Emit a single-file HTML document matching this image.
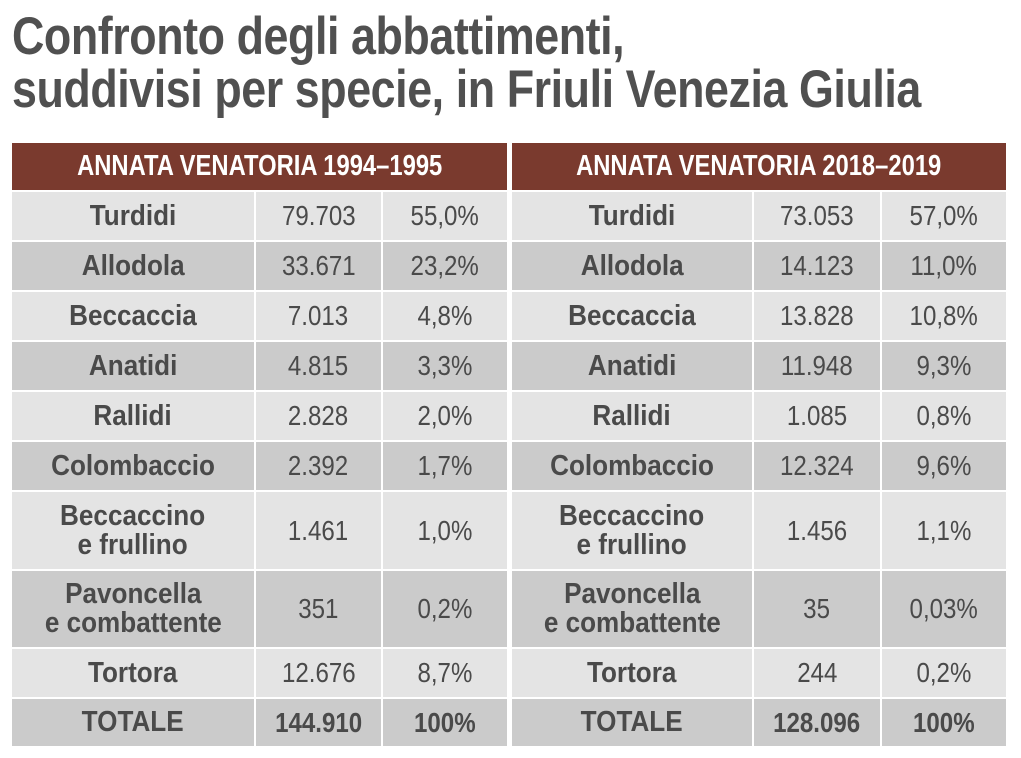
<!DOCTYPE html>
<html><head><meta charset="utf-8"><style>
body{margin:0;width:1021px;height:758px;background:#fff;position:relative;overflow:hidden;font-family:"Liberation Sans Narrow","Liberation Sans",sans-serif;}
.t{position:absolute;left:12px;font-weight:bold;font-size:53px;color:#505050;white-space:nowrap;letter-spacing:-0.5px;transform:scaleX(0.845);transform-origin:left top;}
.c{position:absolute;display:flex;align-items:center;justify-content:center;text-align:center;color:#4a4a4a;}
.c span{display:inline-block;white-space:nowrap;}
.n span{font-size:28px;transform:scaleX(0.86);}
.b span{font-size:29px;line-height:29px;font-weight:bold;transform:scaleX(0.9);}
.nb span{font-weight:bold;}
.h{color:#fff;}
.h span{font-weight:bold;font-size:29px;transform:scaleX(0.82);}
</style></head><body>
<div class="t" style="top:6px">Confronto degli abbattimenti,</div>
<div class="t" style="top:59px">suddivisi per specie, in Friuli Venezia Giulia</div>
<div id="g"></div>
<script>
const rows=[
["Turdidi","79.703","55,0%","73.053","57,0%",192,240],
["Allodola","33.671","23,2%","14.123","11,0%",242,290],
["Beccaccia","7.013","4,8%","13.828","10,8%",292,340],
["Anatidi","4.815","3,3%","11.948","9,3%",342,390],
["Rallidi","2.828","2,0%","1.085","0,8%",392,440],
["Colombaccio","2.392","1,7%","12.324","9,6%",442,490],
["Beccaccino<br>e frullino","1.461","1,0%","1.456","1,1%",492,569],
["Pavoncella<br>e combattente","351","0,2%","35","0,03%",571,647],
["Tortora","12.676","8,7%","244","0,2%",649,697],
["TOTALE","144.910","100%","128.096","100%",699,746]];
const L=[[12,254],[256,381],[383,507]],R=[[512,752],[754,880],[882,1006]];
let h='';
function cell(x0,x1,y0,y1,txt,cls,bg){h+=`<div class="c ${cls}" style="left:${x0}px;width:${x1-x0}px;top:${y0}px;height:${y1-y0}px;background:${bg}"><span>${txt}</span></div>`;}
cell(12,507,143,190,"ANNATA VENATORIA 1994–1995","h","#7a3a2e");
cell(512,1006,143,190,"ANNATA VENATORIA 2018–2019","h","#7a3a2e");
rows.forEach((r,i)=>{const bg=i%2?"#cbcbcb":"#e4e4e4";const tot=i==9?"n nb":"n";
cell(L[0][0],L[0][1],r[5],r[6],r[0],"b",bg);cell(L[1][0],L[1][1],r[5],r[6],r[1],tot,bg);cell(L[2][0],L[2][1],r[5],r[6],r[2],tot,bg);
cell(R[0][0],R[0][1],r[5],r[6],r[0],"b",bg);cell(R[1][0],R[1][1],r[5],r[6],r[3],tot,bg);cell(R[2][0],R[2][1],r[5],r[6],r[4],tot,bg);});
document.getElementById('g').innerHTML=h;
</script>
</body></html>
